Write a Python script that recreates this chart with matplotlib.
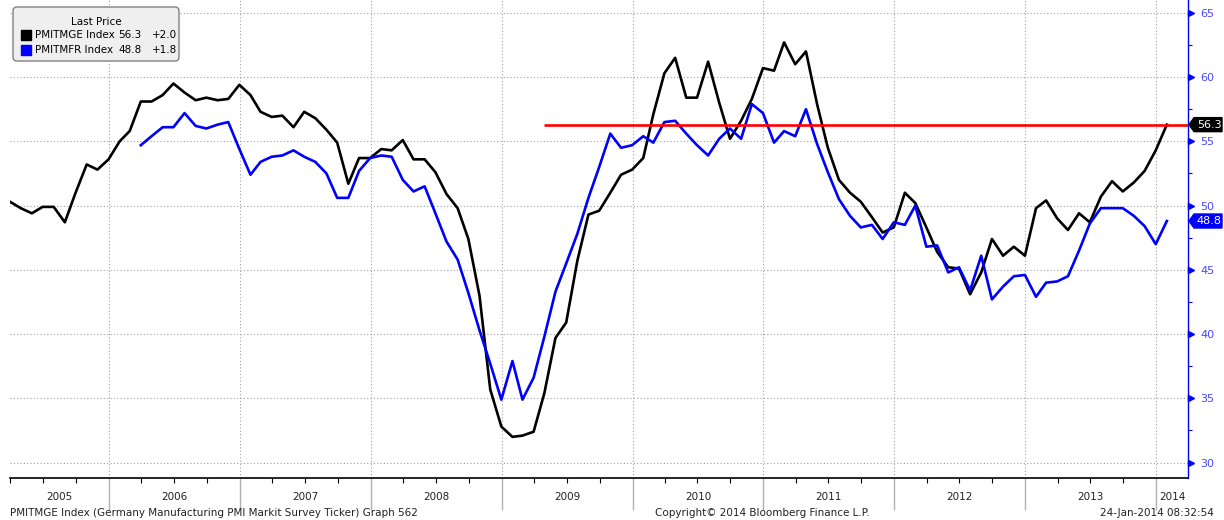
import numpy as np
import pandas as pd
import matplotlib
matplotlib.use('Agg')
import matplotlib.pyplot as plt
import matplotlib.dates as mdates
import matplotlib.transforms as mtransforms
from matplotlib.patches import FancyBboxPatch, Rectangle, Polygon

plt.rcParams['font.family'] = ['DejaVu Sans']

# monthly readings, plotted at month end
ger_dates = pd.date_range('2005-03-31', '2014-01-31', freq='ME')
ger_pmi = [50.3, 49.8, 49.4, 49.9, 49.9, 48.7, 51.0, 53.2, 52.8, 53.6,
           55.0, 55.8, 58.1, 58.1, 58.6, 59.5, 58.8, 58.2, 58.4, 58.2, 58.3, 59.4,
           58.6, 57.3, 56.9, 57.0, 56.1, 57.3, 56.8, 55.9, 54.9, 51.7, 53.7, 53.7,
           54.4, 54.3, 55.1, 53.6, 53.6, 52.6, 50.9, 49.8, 47.4, 43.0, 35.7, 32.8,
           32.0, 32.1, 32.4, 35.4, 39.7, 40.9, 45.7, 49.3, 49.6, 51.0, 52.4, 52.8,
           53.7, 57.1, 60.3, 61.5, 58.4, 58.4, 61.2, 58.0, 55.2, 56.6, 58.3, 60.7,
           60.5, 62.7, 61.0, 62.0, 57.9, 54.5, 52.0, 51.0, 50.3, 49.1, 47.9, 48.3,
           51.0, 50.2, 48.3, 46.4, 45.2, 45.1, 43.1, 44.8, 47.4, 46.1, 46.8, 46.1,
           49.8, 50.4, 49.0, 48.1, 49.4, 48.7, 50.7, 51.9, 51.1, 51.8, 52.7, 54.3,
           56.3]

fra_dates = pd.date_range('2006-03-31', '2014-01-31', freq='ME')
fra_pmi = [54.7, 55.4, 56.1, 56.1, 57.2, 56.2, 56.0, 56.3, 56.5, 54.4,
           52.4, 53.4, 53.8, 53.9, 54.3, 53.8, 53.4, 52.5, 50.6, 50.6, 52.7, 53.7,
           53.9, 53.8, 52.0, 51.1, 51.5, 49.4, 47.2, 45.8, 43.2, 40.3, 37.7, 34.9,
           37.9, 34.9, 36.6, 39.8, 43.3, 45.5, 47.8, 50.6, 53.0, 55.6, 54.5, 54.7,
           55.4, 54.9, 56.5, 56.6, 55.6, 54.7, 53.9, 55.2, 56.0, 55.2, 57.9, 57.2,
           54.9, 55.8, 55.4, 57.5, 54.8, 52.6, 50.5, 49.2, 48.3, 48.5, 47.4, 48.7,
           48.5, 50.0, 46.8, 46.9, 44.8, 45.2, 43.4, 46.1, 42.7, 43.7, 44.5, 44.6,
           42.9, 44.0, 44.1, 44.5, 46.5, 48.6, 49.8, 49.8, 49.8, 49.2, 48.4, 47.0,
           48.8]

ger_name, ger_chg = 'PMITMGE Index', '+2.0'
fra_name, fra_chg = 'PMITMFR Index', '+1.8'
years = list(range(2005, 2015))

x0 = pd.Timestamp('2005-03-31')
x1 = pd.Timestamp('2014-03-31')
line_start = pd.Timestamp('2009-04-30')

blue = '#0000ff'
lab_blue = '#4646ff'
fs = 7.5

fig = plt.figure(figsize=(12.24, 5.2), dpi=100)
ax = fig.add_axes([10/1224, 42/520, 1178/1224, 478/520])

ax.plot(ger_dates, ger_pmi, color='black', lw=1.9, zorder=3)
ax.plot(fra_dates, fra_pmi, color=blue, lw=1.9, zorder=3)
ax.hlines(ger_pmi[-1], line_start, x1, color='red', lw=1.9, zorder=4)

ax.set_xlim(x0, x1)
ax.set_ylim(28.8, 66.0)

for s in ['top', 'left']:
    ax.spines[s].set_visible(False)
ax.spines['bottom'].set_color('black')
ax.spines['bottom'].set_linewidth(1.2)
ax.spines['right'].set_color(blue)
ax.spines['right'].set_linewidth(1.0)

# right value axis
ax.yaxis.tick_right()
ax.set_yticks(np.arange(30, 66, 5))
ax.set_yticks(np.arange(32.5, 66, 5), minor=True)
ax.tick_params(axis='y', which='major', length=0, pad=9, labelcolor=lab_blue, labelsize=8)
ax.tick_params(axis='y', which='minor', length=3, width=0.8, color=blue, direction='out')
tri = mtransforms.offset_copy(mtransforms.blended_transform_factory(ax.transAxes, ax.transData),
                              fig=fig, x=3, y=0, units='dots')
ax.plot([1] * 8, np.arange(30, 66, 5), ls='none', marker='>', ms=4, color=blue,
        transform=tri, clip_on=False)

# time axis
ax.xaxis.set_major_locator(mdates.YearLocator())
ax.xaxis.set_minor_locator(mdates.MonthLocator(bymonth=[4, 7, 10]))
ax.tick_params(axis='x', which='major', length=23, width=1, color='#b0b0b0', labelbottom=False)
ax.tick_params(axis='x', which='minor', length=3.5, width=0.8, color='black')

ax.grid(True, which='major', ls=(0, (1, 2)), color='#a0a0a0', lw=0.8)
ax.set_axisbelow(True)

ytr = mtransforms.blended_transform_factory(ax.transData, ax.transAxes)
for y in years:
    a = max(pd.Timestamp(f'{y}-01-01'), x0)
    b = min(pd.Timestamp(f'{y + 1}-01-01'), x1)
    ax.text(a + (b - a) / 2, -19/478, str(y), transform=ytr, ha='center', va='center',
            fontsize=fs, color='#222222')

# last value tags
ident = mtransforms.IdentityTransform()
for val, fc in [(ger_pmi[-1], 'black'), (fra_pmi[-1], blue)]:
    yc = ax.transData.transform((0, val))[1]
    xs = 1188
    pts = [(xs + 1, yc), (xs + 6, yc + 7), (xs + 34, yc + 7), (xs + 34, yc - 7), (xs + 6, yc - 7)]
    fig.add_artist(Polygon(pts, closed=True, fc=fc, ec=fc, transform=ident))
    fig.text(xs + 21, yc, f'{val:.1f}', color='white', fontsize=8, ha='center', va='center',
             transform=ident)

# legend box
fig.add_artist(FancyBboxPatch((13, 459), 166, 54, boxstyle='round,pad=0,rounding_size=4',
                              fc='#efefef', ec='#808080', lw=1, transform=ident))
fig.text(96, 498, 'Last Price', fontsize=fs, ha='center', va='center', transform=ident)
for yy, col, name, val, chg in [(485, 'black', ger_name, ger_pmi[-1], ger_chg),
                                (470, blue, fra_name, fra_pmi[-1], fra_chg)]:
    fig.add_artist(Rectangle((21, yy - 5), 10, 10, fc=col, ec=col, transform=ident))
    fig.text(35, yy, name, fontsize=fs, va='center', transform=ident)
    fig.text(118, yy, f'{val:.1f}', fontsize=fs, va='center', transform=ident)
    fig.text(152, yy, chg, fontsize=fs, va='center', transform=ident)

# footer
fig.text(10, 7, 'PMITMGE Index (Germany Manufacturing PMI Markit Survey Ticker) Graph 562',
         fontsize=fs, va='center', transform=ident, color='#222222')
fig.text(762, 7, 'Copyright\u00a9 2014 Bloomberg Finance L.P.', fontsize=fs, ha='center',
         va='center', transform=ident, color='#222222')
fig.text(1214, 7, '24-Jan-2014 08:32:54', fontsize=fs, ha='right', va='center',
         transform=ident, color='#222222')

fig.savefig('out.png', dpi=100)
